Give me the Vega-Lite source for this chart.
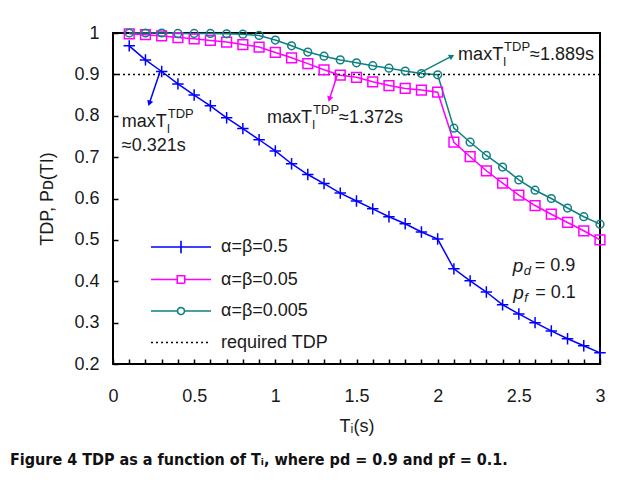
{
  "$schema": "https://vega.github.io/schema/vega-lite/v6.json",
  "width": 487,
  "height": 331,
  "autosize": {"type": "none"},
  "padding": {"left": 113, "top": 33, "right": 25, "bottom": 122},
  "background": "white",
  "config": {
    "view": {"stroke": "#000", "strokeWidth": 2},
    "font": "Liberation Sans",
    "axis": {
      "grid": false, "domain": false, "tickColor": "#000", "tickWidth": 1.5, "tickSize": -5,
      "labelFont": "Liberation Sans", "labelFontSize": 18, "labelColor": "#1a1a1a",
      "titleFont": "Liberation Sans", "titleFontSize": 18, "titleFontWeight": "normal", "titleColor": "#1a1a1a"
    }
  },
  "title": {
    "text": "Figure 4 TDP as a function of Tᵢ, where pd = 0.9 and pf = 0.1.",
    "orient": "bottom", "anchor": "start", "frame": "group", "dx": -103, "offset": 17,
    "font": "DejaVu Sans Condensed, Liberation Sans", "fontSize": 16, "fontWeight": "bold", "color": "#111"
  },
  "datasets": {
    "curves": [
      {"x": 0.1, "y": 0.969, "series": "α=β=0.5"}, {"x": 0.2, "y": 0.935, "series": "α=β=0.5"}, {"x": 0.3, "y": 0.907, "series": "α=β=0.5"},
      {"x": 0.4, "y": 0.877, "series": "α=β=0.5"}, {"x": 0.5, "y": 0.850, "series": "α=β=0.5"}, {"x": 0.6, "y": 0.824, "series": "α=β=0.5"},
      {"x": 0.7, "y": 0.795, "series": "α=β=0.5"}, {"x": 0.8, "y": 0.769, "series": "α=β=0.5"}, {"x": 0.9, "y": 0.742, "series": "α=β=0.5"},
      {"x": 1.0, "y": 0.715, "series": "α=β=0.5"}, {"x": 1.1, "y": 0.684, "series": "α=β=0.5"}, {"x": 1.2, "y": 0.658, "series": "α=β=0.5"},
      {"x": 1.3, "y": 0.636, "series": "α=β=0.5"}, {"x": 1.4, "y": 0.613, "series": "α=β=0.5"}, {"x": 1.5, "y": 0.594, "series": "α=β=0.5"},
      {"x": 1.6, "y": 0.575, "series": "α=β=0.5"}, {"x": 1.7, "y": 0.556, "series": "α=β=0.5"}, {"x": 1.8, "y": 0.539, "series": "α=β=0.5"},
      {"x": 1.9, "y": 0.519, "series": "α=β=0.5"}, {"x": 2.0, "y": 0.502, "series": "α=β=0.5"}, {"x": 2.1, "y": 0.430, "series": "α=β=0.5"},
      {"x": 2.2, "y": 0.401, "series": "α=β=0.5"}, {"x": 2.3, "y": 0.374, "series": "α=β=0.5"}, {"x": 2.4, "y": 0.343, "series": "α=β=0.5"},
      {"x": 2.5, "y": 0.321, "series": "α=β=0.5"}, {"x": 2.6, "y": 0.300, "series": "α=β=0.5"}, {"x": 2.7, "y": 0.280, "series": "α=β=0.5"},
      {"x": 2.8, "y": 0.261, "series": "α=β=0.5"}, {"x": 2.9, "y": 0.244, "series": "α=β=0.5"}, {"x": 3.0, "y": 0.227, "series": "α=β=0.5"},

      {"x": 0.1, "y": 0.998, "series": "α=β=0.05"}, {"x": 0.2, "y": 0.996, "series": "α=β=0.05"}, {"x": 0.3, "y": 0.993, "series": "α=β=0.05"},
      {"x": 0.4, "y": 0.989, "series": "α=β=0.05"}, {"x": 0.5, "y": 0.986, "series": "α=β=0.05"}, {"x": 0.6, "y": 0.982, "series": "α=β=0.05"},
      {"x": 0.7, "y": 0.978, "series": "α=β=0.05"}, {"x": 0.8, "y": 0.972, "series": "α=β=0.05"}, {"x": 0.9, "y": 0.966, "series": "α=β=0.05"},
      {"x": 1.0, "y": 0.953, "series": "α=β=0.05"}, {"x": 1.1, "y": 0.940, "series": "α=β=0.05"}, {"x": 1.2, "y": 0.926, "series": "α=β=0.05"},
      {"x": 1.3, "y": 0.911, "series": "α=β=0.05"}, {"x": 1.4, "y": 0.898, "series": "α=β=0.05"}, {"x": 1.5, "y": 0.893, "series": "α=β=0.05"},
      {"x": 1.6, "y": 0.882, "series": "α=β=0.05"}, {"x": 1.7, "y": 0.873, "series": "α=β=0.05"}, {"x": 1.8, "y": 0.866, "series": "α=β=0.05"},
      {"x": 1.9, "y": 0.862, "series": "α=β=0.05"}, {"x": 2.0, "y": 0.857, "series": "α=β=0.05"}, {"x": 2.1, "y": 0.736, "series": "α=β=0.05"},
      {"x": 2.2, "y": 0.701, "series": "α=β=0.05"}, {"x": 2.3, "y": 0.667, "series": "α=β=0.05"}, {"x": 2.4, "y": 0.637, "series": "α=β=0.05"},
      {"x": 2.5, "y": 0.608, "series": "α=β=0.05"}, {"x": 2.6, "y": 0.583, "series": "α=β=0.05"}, {"x": 2.7, "y": 0.562, "series": "α=β=0.05"},
      {"x": 2.8, "y": 0.542, "series": "α=β=0.05"}, {"x": 2.9, "y": 0.522, "series": "α=β=0.05"}, {"x": 3.0, "y": 0.500, "series": "α=β=0.05"},

      {"x": 0.1, "y": 1.0, "series": "α=β=0.005"}, {"x": 0.2, "y": 1.0, "series": "α=β=0.005"}, {"x": 0.3, "y": 1.0, "series": "α=β=0.005"},
      {"x": 0.4, "y": 0.999, "series": "α=β=0.005"}, {"x": 0.5, "y": 0.999, "series": "α=β=0.005"}, {"x": 0.6, "y": 0.999, "series": "α=β=0.005"},
      {"x": 0.7, "y": 0.998, "series": "α=β=0.005"}, {"x": 0.8, "y": 0.997, "series": "α=β=0.005"}, {"x": 0.9, "y": 0.994, "series": "α=β=0.005"},
      {"x": 1.0, "y": 0.983, "series": "α=β=0.005"}, {"x": 1.1, "y": 0.969, "series": "α=β=0.005"}, {"x": 1.2, "y": 0.954, "series": "α=β=0.005"},
      {"x": 1.3, "y": 0.944, "series": "α=β=0.005"}, {"x": 1.4, "y": 0.935, "series": "α=β=0.005"}, {"x": 1.5, "y": 0.928, "series": "α=β=0.005"},
      {"x": 1.6, "y": 0.921, "series": "α=β=0.005"}, {"x": 1.7, "y": 0.915, "series": "α=β=0.005"}, {"x": 1.8, "y": 0.908, "series": "α=β=0.005"},
      {"x": 1.9, "y": 0.902, "series": "α=β=0.005"}, {"x": 2.0, "y": 0.899, "series": "α=β=0.005"}, {"x": 2.1, "y": 0.770, "series": "α=β=0.005"},
      {"x": 2.2, "y": 0.736, "series": "α=β=0.005"}, {"x": 2.3, "y": 0.704, "series": "α=β=0.005"}, {"x": 2.4, "y": 0.676, "series": "α=β=0.005"},
      {"x": 2.5, "y": 0.645, "series": "α=β=0.005"}, {"x": 2.6, "y": 0.620, "series": "α=β=0.005"}, {"x": 2.7, "y": 0.600, "series": "α=β=0.005"},
      {"x": 2.8, "y": 0.577, "series": "α=β=0.005"}, {"x": 2.9, "y": 0.556, "series": "α=β=0.005"}, {"x": 3.0, "y": 0.538, "series": "α=β=0.005"}
    ],
    "required": [{"y": 0.9, "series": "required TDP"}],
    "arrows": [
      {"series": "α=β=0.5", "x": 0.29, "y": 0.907, "x2": 0.224, "y2": 0.830},
      {"series": "α=β=0.05", "x": 1.382, "y": 0.899, "x2": 1.333, "y2": 0.840},
      {"series": "α=β=0.005", "x": 1.887, "y": 0.903, "x2": 2.087, "y2": 0.944}
    ],
    "ann": [
      {"x": 0.054, "y": 0.786, "inline": "", "below": "≈0.321s"},
      {"x": 0.949, "y": 0.795, "inline": "≈1.372s", "below": ""},
      {"x": 2.126, "y": 0.946, "inline": "≈1.889s", "below": ""}
    ],
    "params": [
      {"x": 2.463, "y": 0.437, "sub": "d", "val": "= 0.9"},
      {"x": 2.465, "y": 0.371, "sub": "f", "val": "= 0.1"}
    ]
  },
  "encoding": {
    "x": {"field": "x", "type": "quantitative", "scale": {"domain": [0, 3], "nice": false},
      "axis": {"title": "Tᵢ(s)", "values": [0,0.1,0.2,0.3,0.4,0.5,0.6,0.7,0.8,0.9,1,1.1,1.2,1.3,1.4,1.5,1.6,1.7,1.8,1.9,2,2.1,2.2,2.3,2.4,2.5,2.6,2.7,2.8,2.9,3],
        "labelExpr": "(round(datum.value*10) % 5 == 0) ? format(datum.value, '~g') : ''", "labelPadding": 28, "titlePadding": 12, "labelFlush": false}},
    "y": {"field": "y", "type": "quantitative", "scale": {"domain": [0.2, 1], "nice": false, "zero": false},
      "axis": {"title": "TDP, Pᴅ(TI)", "values": [0.2,0.3,0.4,0.5,0.6,0.7,0.8,0.9,1], "format": "~g", "labelPadding": 19, "titlePadding": 17, "labelFlush": false}}
  },
  "layer": [
    {
      "data": {"name": "curves"},
      "mark": {"type": "line", "strokeWidth": 1.5},
      "encoding": {
        "color": {"field": "series", "type": "nominal",
          "scale": {"domain": ["α=β=0.5", "α=β=0.05", "α=β=0.005", "required TDP"], "range": ["#0000ff", "#ff00ff", "#0f8080", "#000000"]},
          "legend": {
            "title": null, "orient": "none", "legendX": 34, "legendY": 205, "padding": 0,
            "symbolSize": 100, "symbolOffset": 25, "labelOffset": 31, "rowPadding": 13.5,
            "labelFont": "Liberation Sans", "labelFontSize": 18, "labelColor": "#1a1a1a",
            "encode": {"symbols": {"update": {
              "shape": {"signal": "datum.value === 'α=β=0.5' ? 'M-6,0L6,0M0,-1.25L0,1.25' : datum.value === 'α=β=0.05' ? 'M-6,0L-0.75,0M0.75,0L6,0M-0.75,-0.75L0.75,-0.75L0.75,0.75L-0.75,0.75Z' : datum.value === 'α=β=0.005' ? 'M-6,0L-0.7,0M0.7,0L6,0M-0.7,0A0.7,0.7,0,1,0,0.7,0A0.7,0.7,0,1,0,-0.7,0' : 'M-6,0L6,0'"},
              "fill": {"value": "transparent"},
              "fillOpacity": {"value": 0},
              "stroke": {"scale": "color", "field": "value"},
              "strokeWidth": {"value": 1.6},
              "strokeDash": {"signal": "datum.value === 'required TDP' ? [2, 3] : [1, 0]"},
              "opacity": {"value": 1}
            }}}
          }},
        "order": {"field": "x", "type": "quantitative"}
      }
    },
    {
      "data": {"name": "required"},
      "mark": {"type": "rule", "strokeDash": [2, 3], "strokeWidth": 1.5},
      "encoding": {
        "x": null,
        "color": {"field": "series", "type": "nominal",
          "scale": {"domain": ["α=β=0.5", "α=β=0.05", "α=β=0.005", "required TDP"], "range": ["#0000ff", "#ff00ff", "#0f8080", "#000000"]}}
      }
    },
    {
      "data": {"name": "curves"},
      "mark": {"type": "point", "filled": false, "strokeWidth": 1.5, "opacity": 1},
      "encoding": {
        "color": {"field": "series", "type": "nominal",
          "scale": {"domain": ["α=β=0.5", "α=β=0.05", "α=β=0.005", "required TDP"], "range": ["#0000ff", "#ff00ff", "#0f8080", "#000000"]}},
        "shape": {"field": "series", "type": "nominal",
          "scale": {"domain": ["α=β=0.5", "α=β=0.05", "α=β=0.005"], "range": ["M-1,0L1,0M0,-1L0,1", "square", "circle"]}, "legend": null},
        "size": {"field": "series", "type": "ordinal",
          "scale": {"domain": ["α=β=0.5", "α=β=0.05", "α=β=0.005"], "range": [130, 60, 55]}, "legend": null}
      }
    },
    {
      "data": {"name": "arrows"},
      "mark": {"type": "rule", "strokeWidth": 1.5},
      "encoding": {
        "x2": {"field": "x2"}, "y2": {"field": "y2"},
        "color": {"field": "series", "type": "nominal",
          "scale": {"domain": ["α=β=0.5", "α=β=0.05", "α=β=0.005", "required TDP"], "range": ["#0000ff", "#ff00ff", "#0f8080", "#000000"]}}
      }
    },
    {
      "data": {"name": "arrows"},
      "transform": [{"filter": "datum.series === 'α=β=0.5'"}],
      "mark": {"type": "point", "shape": "triangle-up", "angle": 199, "filled": true, "size": 40, "opacity": 1},
      "encoding": {"x": {"field": "x2", "type": "quantitative"}, "y": {"field": "y2", "type": "quantitative"},
        "color": {"field": "series", "type": "nominal",
          "scale": {"domain": ["α=β=0.5", "α=β=0.05", "α=β=0.005", "required TDP"], "range": ["#0000ff", "#ff00ff", "#0f8080", "#000000"]}}}
    },
    {
      "data": {"name": "arrows"},
      "transform": [{"filter": "datum.series === 'α=β=0.05'"}],
      "mark": {"type": "point", "shape": "triangle-up", "angle": 198, "filled": true, "size": 40, "opacity": 1},
      "encoding": {"x": {"field": "x2", "type": "quantitative"}, "y": {"field": "y2", "type": "quantitative"},
        "color": {"field": "series", "type": "nominal",
          "scale": {"domain": ["α=β=0.5", "α=β=0.05", "α=β=0.005", "required TDP"], "range": ["#0000ff", "#ff00ff", "#0f8080", "#000000"]}}}
    },
    {
      "data": {"name": "arrows"},
      "transform": [{"filter": "datum.series === 'α=β=0.005'"}],
      "mark": {"type": "point", "shape": "triangle-up", "angle": 62, "filled": true, "size": 40, "opacity": 1},
      "encoding": {"x": {"field": "x2", "type": "quantitative"}, "y": {"field": "y2", "type": "quantitative"},
        "color": {"field": "series", "type": "nominal",
          "scale": {"domain": ["α=β=0.5", "α=β=0.05", "α=β=0.005", "required TDP"], "range": ["#0000ff", "#ff00ff", "#0f8080", "#000000"]}}}
    },
    {
      "data": {"name": "ann"},
      "mark": {"type": "text", "align": "left", "baseline": "middle", "fontSize": 18, "color": "#1a1a1a"},
      "encoding": {"text": {"value": "maxT"}}
    },
    {
      "data": {"name": "ann"},
      "mark": {"type": "text", "align": "left", "baseline": "middle", "fontSize": 12, "dx": 45, "dy": 7, "color": "#1a1a1a"},
      "encoding": {"text": {"value": "I"}}
    },
    {
      "data": {"name": "ann"},
      "mark": {"type": "text", "align": "left", "baseline": "middle", "fontSize": 13, "dx": 46, "dy": -8, "color": "#1a1a1a"},
      "encoding": {"text": {"value": "TDP"}}
    },
    {
      "data": {"name": "ann"},
      "mark": {"type": "text", "align": "left", "baseline": "middle", "fontSize": 18, "dx": 72, "color": "#1a1a1a"},
      "encoding": {"text": {"field": "inline"}}
    },
    {
      "data": {"name": "ann"},
      "mark": {"type": "text", "align": "left", "baseline": "middle", "fontSize": 18, "dy": 24, "color": "#1a1a1a"},
      "encoding": {"text": {"field": "below"}}
    },
    {
      "data": {"name": "params"},
      "mark": {"type": "text", "align": "left", "baseline": "middle", "fontSize": 19, "fontStyle": "italic", "color": "#1a1a1a"},
      "encoding": {"text": {"value": "p"}}
    },
    {
      "data": {"name": "params"},
      "mark": {"type": "text", "align": "left", "baseline": "middle", "fontSize": 13, "fontStyle": "italic", "dx": 11, "dy": 5, "color": "#1a1a1a"},
      "encoding": {"text": {"field": "sub"}}
    },
    {
      "data": {"name": "params"},
      "mark": {"type": "text", "align": "left", "baseline": "middle", "fontSize": 18, "dx": 22, "color": "#1a1a1a"},
      "encoding": {"text": {"field": "val"}}
    }
  ]
}
